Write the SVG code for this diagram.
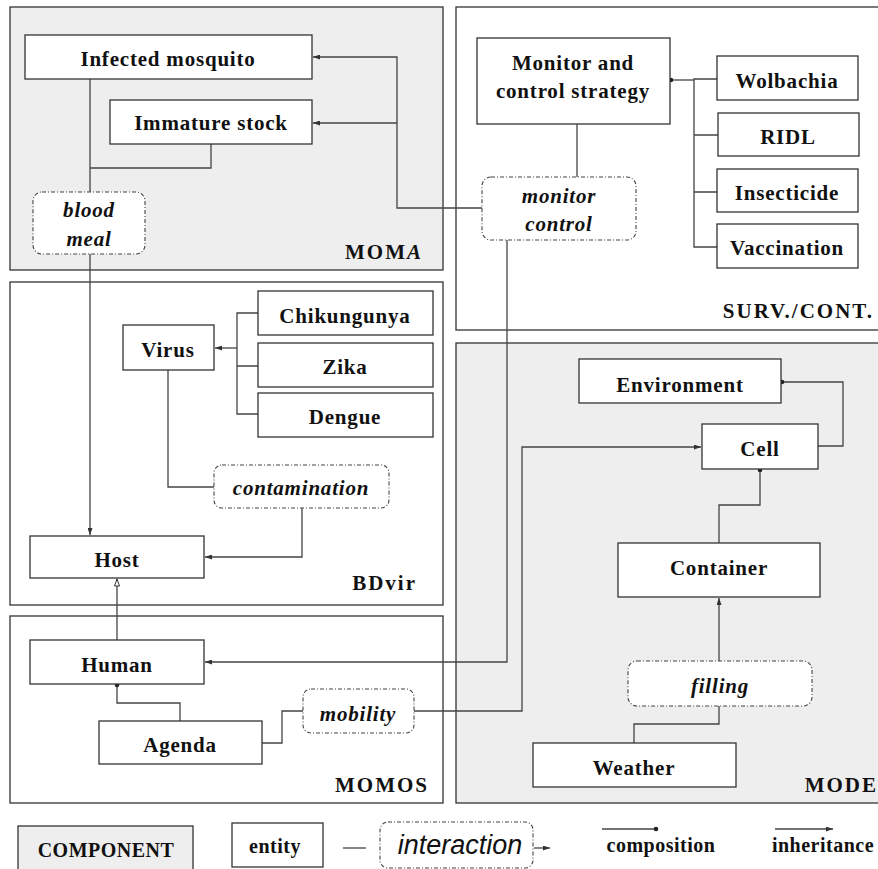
<svg xmlns="http://www.w3.org/2000/svg" width="878" height="869" viewBox="0 0 878 869">
<style>
.comp{stroke:#333;stroke-width:1.3}
.grey{fill:#eeeeee}
.white{fill:#ffffff}
.ent{fill:#fff;stroke:#333;stroke-width:1.3}
.int{fill:#fff;stroke:#444;stroke-width:1.1;stroke-dasharray:4 2 1 2}
.t{font-family:"Liberation Serif","Times New Roman",serif;font-weight:bold;font-size:21px;letter-spacing:0.8px;fill:#111;text-anchor:middle}
.ti{font-family:"Liberation Serif","Times New Roman",serif;font-weight:bold;font-style:italic;font-size:21px;letter-spacing:0.8px;fill:#111;text-anchor:middle}
.lab{font-family:"Liberation Serif","Times New Roman",serif;font-weight:bold;font-size:21px;letter-spacing:2px;fill:#111;text-anchor:end}
.leg{font-family:"Liberation Serif","Times New Roman",serif;font-weight:bold;font-size:20px;letter-spacing:0.5px;fill:#111;text-anchor:middle}
.legi{font-family:"Liberation Sans",Arial,sans-serif;font-style:italic;font-size:27px;fill:#111;text-anchor:middle}
.c{fill:none;stroke:#444;stroke-width:1.3}
</style>
<defs>
<marker id="arr" viewBox="0 0 7 5" refX="7" refY="2.5" markerWidth="7" markerHeight="5" markerUnits="userSpaceOnUse" orient="auto"><path d="M0,0 L7,2.5 L0,5 z" fill="#333"/></marker>
<marker id="inh" viewBox="0 0 8 6" refX="7.5" refY="3" markerWidth="8" markerHeight="6" markerUnits="userSpaceOnUse" orient="auto"><path d="M0.5,0.5 L7.5,3 L0.5,5.5 z" fill="#fff" stroke="#333" stroke-width="1"/></marker>
<marker id="dot" viewBox="0 0 6 6" refX="3" refY="3" markerWidth="6" markerHeight="6" markerUnits="userSpaceOnUse"><circle cx="3" cy="3" r="2.3" fill="#222"/></marker>
</defs>

<g id="components">
<g id="moma"><rect class="comp grey" x="10" y="7" width="433" height="263"/><text class="lab" x="423" y="259">MOM<tspan font-style="italic">A</tspan></text></g>
<g id="surv"><rect class="comp white" x="456" y="7" width="426" height="323"/><text class="lab" x="874" y="318">SURV./CONT.</text></g>
<g id="bdvir"><rect class="comp white" x="10" y="282" width="433" height="323"/><text class="lab" x="417" y="590">BDvir</text></g>
<g id="momos"><rect class="comp white" x="10" y="616" width="433" height="187"/><text class="lab" x="429" y="792">MOMOS</text></g>
<g id="mode"><rect class="comp grey" x="456" y="343" width="426" height="460"/><text class="lab" x="878" y="792">MODE</text></g>
</g>

<g id="connectors">
<path class="c" d="M90,79 V192"/>
<path class="c" d="M90,254 V535" marker-end="url(#arr)"/>
<path class="c" d="M211,144 V168 H90"/>
<path class="c" d="M482,208 H397 V57 H313" marker-end="url(#arr)"/>
<path class="c" d="M397,123 H313" marker-end="url(#arr)"/>
<path class="c" d="M577,124 V177"/>
<path class="c" d="M694,80 H671" marker-end="url(#dot)"/>
<path class="c" d="M717,79 H694 V247 H717 M694,135 H718 M694,192 H717"/>
<path class="c" d="M507,240 V662 H205" marker-end="url(#arr)"/>
<path class="c" d="M414,711 H522 V447 H701" marker-end="url(#arr)"/>
<path class="c" d="M262,743 H282 V711 H303"/>
<path class="c" d="M180,721 V703 H117 V685" marker-end="url(#dot)"/>
<path class="c" d="M117,640 V579" marker-end="url(#inh)"/>
<path class="c" d="M168,370 V487 H214"/>
<path class="c" d="M302,508 V557 H205" marker-end="url(#arr)"/>
<path class="c" d="M237,348 H215" marker-end="url(#arr)"/>
<path class="c" d="M258,313 H237 V414 H258 M237,366 H258"/>
<path class="c" d="M634,743 V724 H719 V706"/>
<path class="c" d="M719,661 V598" marker-end="url(#arr)"/>
<path class="c" d="M719,543 V505 H760 V470" marker-end="url(#dot)"/>
<path class="c" d="M818,446 H843 V382 H782" marker-end="url(#dot)"/>
</g>

<g id="infected-mosquito"><rect class="ent" x="25" y="35" width="287" height="44"/><text class="t" x="168" y="66">Infected mosquito</text></g>
<g id="immature-stock"><rect class="ent" x="110" y="100" width="202" height="44"/><text class="t" x="211" y="130">Immature stock</text></g>
<g id="blood-meal"><rect class="int" x="33" y="192" width="112" height="62" rx="9"/><text class="ti" x="89" y="217">blood</text><text class="ti" x="89" y="246">meal</text></g>

<g id="monitor-strategy"><rect class="ent" x="477" y="38" width="193" height="86"/><text class="t" x="573" y="70">Monitor and</text><text class="t" x="573" y="98">control strategy</text></g>
<g id="wolbachia"><rect class="ent" x="717" y="56" width="141" height="44"/><text class="t" x="787" y="88">Wolbachia</text></g>
<g id="ridl"><rect class="ent" x="718" y="113" width="141" height="43"/><text class="t" x="788" y="144">RIDL</text></g>
<g id="insecticide"><rect class="ent" x="717" y="169" width="141" height="43"/><text class="t" x="787" y="200">Insecticide</text></g>
<g id="vaccination"><rect class="ent" x="717" y="224" width="141" height="44"/><text class="t" x="787" y="255">Vaccination</text></g>
<g id="monitor-control"><rect class="int" x="482" y="177" width="154" height="63" rx="9"/><text class="ti" x="559" y="203">monitor</text><text class="ti" x="559" y="231">control</text></g>

<g id="virus"><rect class="ent" x="123" y="325" width="91" height="45"/><text class="t" x="168" y="357">Virus</text></g>
<g id="chikungunya"><rect class="ent" x="258" y="291" width="175" height="44"/><text class="t" x="345" y="323">Chikungunya</text></g>
<g id="zika"><rect class="ent" x="258" y="343" width="175" height="44"/><text class="t" x="345" y="374">Zika</text></g>
<g id="dengue"><rect class="ent" x="258" y="393" width="175" height="44"/><text class="t" x="345" y="424">Dengue</text></g>
<g id="contamination"><rect class="int" x="214" y="465" width="175" height="43" rx="8"/><text class="ti" x="301" y="495">contamination</text></g>
<g id="host"><rect class="ent" x="30" y="536" width="174" height="42"/><text class="t" x="117" y="567">Host</text></g>

<g id="human"><rect class="ent" x="30" y="640" width="174" height="44"/><text class="t" x="117" y="672">Human</text></g>
<g id="agenda"><rect class="ent" x="99" y="721" width="163" height="43"/><text class="t" x="180" y="752">Agenda</text></g>
<g id="mobility"><rect class="int" x="303" y="689" width="111" height="44" rx="8"/><text class="ti" x="358" y="721">mobility</text></g>

<g id="environment"><rect class="ent" x="579" y="359" width="202" height="44"/><text class="t" x="680" y="392">Environment</text></g>
<g id="cell"><rect class="ent" x="702" y="424" width="116" height="45"/><text class="t" x="760" y="456">Cell</text></g>
<g id="container"><rect class="ent" x="618" y="543" width="202" height="54"/><text class="t" x="719" y="575">Container</text></g>
<g id="filling"><rect class="int" x="628" y="661" width="184" height="45" rx="9"/><text class="ti" x="720" y="693">filling</text></g>
<g id="weather"><rect class="ent" x="533" y="743" width="203" height="44"/><text class="t" x="634" y="775">Weather</text></g>

<g id="legend">
<rect class="comp grey" x="18" y="826" width="175" height="50"/><text class="leg" x="106" y="857">COMPONENT</text>
<rect class="ent" x="232" y="823" width="91" height="44"/><text class="leg" x="275" y="853">entity</text>
<path class="c" d="M343,848 H366"/>
<rect class="int" x="380" y="822" width="153" height="46" rx="8"/><text class="legi" x="460" y="854">interaction</text>
<path class="c" d="M534,848 H550" marker-end="url(#arr)"/>
<path class="c" d="M602,829 H656" marker-end="url(#dot)"/><text class="leg" x="661" y="852">composition</text>
<path class="c" d="M775,829 H833" marker-end="url(#arr)"/><text class="leg" x="823" y="852">inheritance</text>
</g>
</svg>
